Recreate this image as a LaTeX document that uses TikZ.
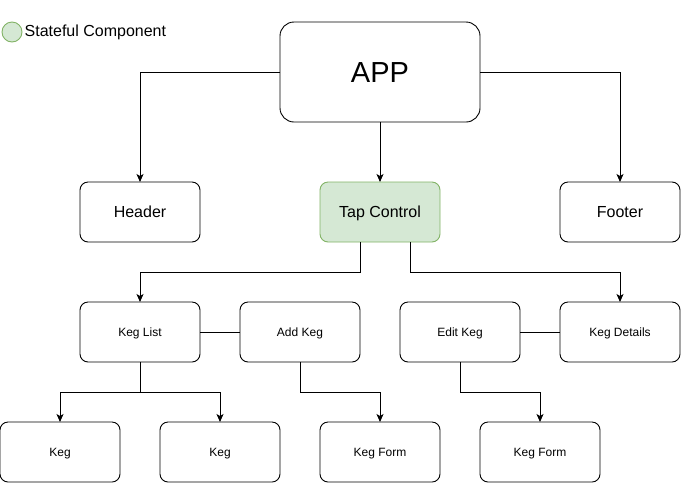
\documentclass[tikz,border=0pt]{standalone}
\usepackage{fontspec}
\setmainfont{Liberation Sans}
\usepackage{tikz}
\usetikzlibrary{positioning,arrows.meta}
\definecolor{stfill}{HTML}{D5E8D4}
\definecolor{stline}{HTML}{82B366}
\definecolor{ink}{HTML}{000000}

\begin{document}
\begin{tikzpicture}[x=1pt,y=-1pt,
  box/.style={draw=ink,line width=0.9pt,rounded corners=8pt,minimum width=120pt,minimum height=60pt,inner sep=0pt,outer sep=0pt,font=\fontsize{12}{14}\selectfont,text height=8.6pt,text depth=0pt},
  mid/.style={box,font=\fontsize{16}{19}\selectfont,text height=11.5pt},
  st/.style={mid,draw=stline,fill=stfill},
  ar/.style={-{Stealth[length=8pt,width=7pt,inset=2pt]},draw=ink,line width=0.9pt},
  ln/.style={draw=ink,line width=0.9pt}]
\useasboundingbox (0,0) rectangle (682,483);
\node[circle,draw=stline,fill=stfill,line width=0.9pt,minimum size=20pt,inner sep=0pt] (lg) at (12,32) {};
\node[right=1pt of lg,font=\fontsize{16}{19}\selectfont,inner sep=1pt] (lgt) {Stateful Component};
\node[box,minimum width=200pt,minimum height=100pt,rounded corners=14pt,font=\fontsize{29}{34}\selectfont,text height=20.8pt] (app) at (380,72) {APP};
\node[mid] (hd) at (140,212) {Header};
\node[st] (tap) at (380,212) {Tap Control};
\node[mid] (ft) at (620,212) {Footer};
\node[box] (kl) at (140,332) {Keg List};
\node[box] (ak) at (300,332) {Add Keg};
\node[box] (ek) at (460,332) {Edit Keg};
\node[box] (kd) at (620,332) {Keg Details};
\node[box] (k1) at (60,452) {Keg};
\node[box] (k2) at (220,452) {Keg};
\node[box] (kf1) at (380,452) {Keg Form};
\node[box] (kf2) at (540,452) {Keg Form};
\draw[ar] (app.west) -| (hd.north);
\draw[ar] (app) -- (tap);
\draw[ar] (app.east) -| (ft.north);
\draw[ar] ([xshift=-20pt]tap.south) -- ++(0,30) -| (kl.north);
\draw[ar] ([xshift=30pt]tap.south) -- ++(0,30) -| (kd.north);
\draw[ln] (kl) -- (ak); \draw[ln] (ek) -- (kd);
\foreach \n in {k1,k2} {\draw[ar] (kl.south) -- ++(0,30) -| (\n.north);}
\draw[ar] (ak.south) -- ++(0,30) -| (kf1.north);
\draw[ar] (ek.south) -- ++(0,30) -| (kf2.north);
\end{tikzpicture}
\end{document}
